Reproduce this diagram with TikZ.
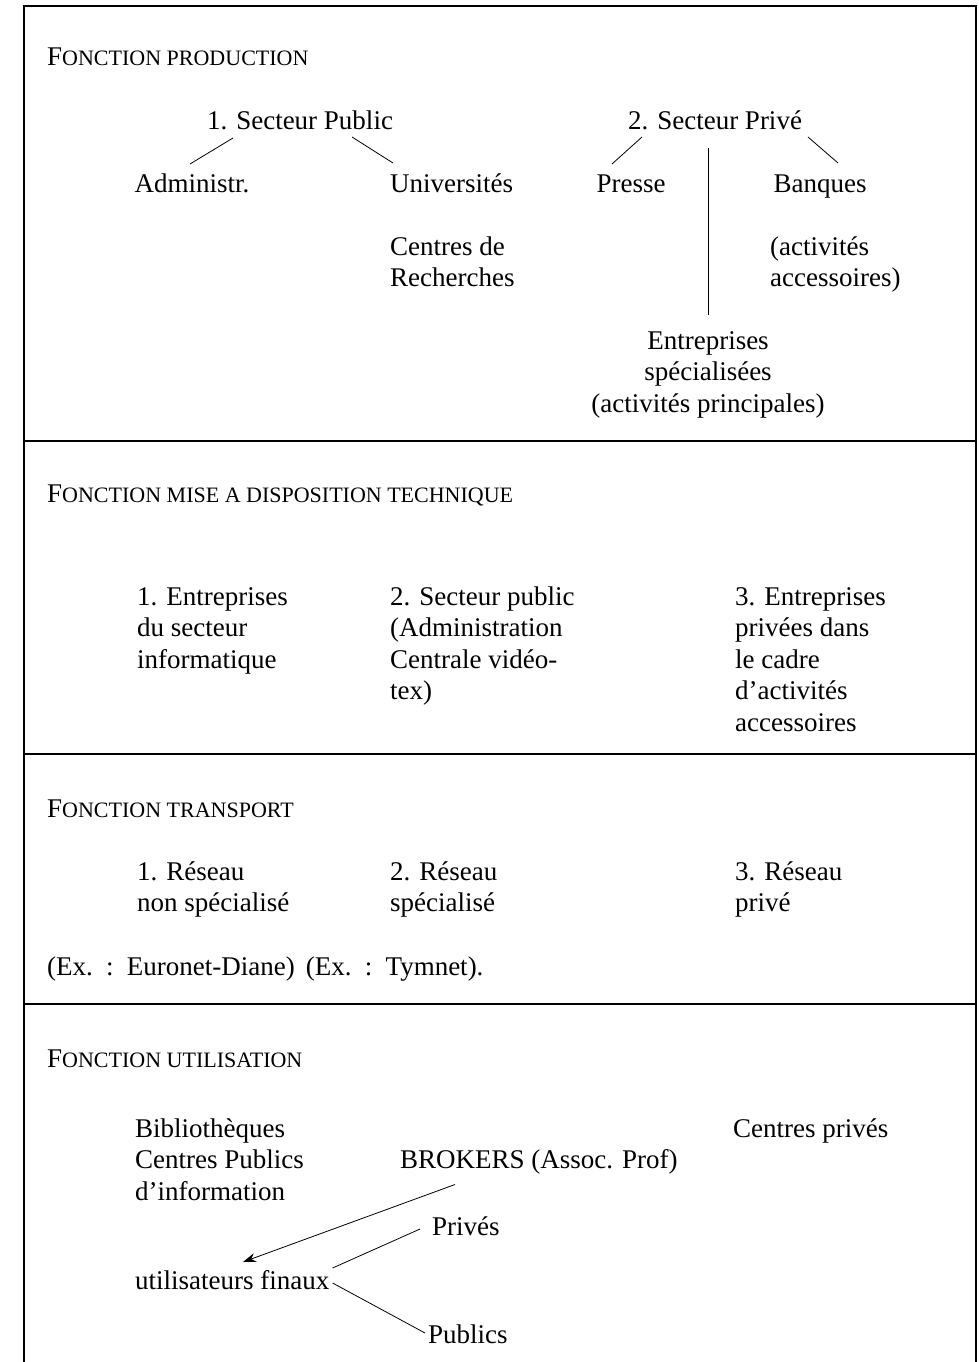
\documentclass[tikz,border=0pt]{standalone}
\usepackage{fontspec}
\setmainfont{Liberation Serif}
\usetikzlibrary{arrows.meta}
\newcommand\tl[1]{\begin{tabular}[t]{@{}l@{}}#1\end{tabular}}
\newcommand\tcen[1]{\begin{tabular}[t]{@{}c@{}}#1\end{tabular}}
\newcommand\schead[2]{#1{\fontsize{22}{26}\selectfont #2}}
\begin{document}
\begin{tikzpicture}[x=1pt,y=-1pt,
  every node/.style={font=\fontsize{27}{31.5}\selectfont, inner sep=0pt},
  lbl/.style={anchor=base west},
  lblc/.style={anchor=base},
  frame/.style={line width=1.6pt, line cap=rect},
  conn/.style={line width=0.8pt},
  arr/.style={line width=0.8pt, -{Stealth[length=13pt,width=9pt]}}]
\useasboundingbox (0,0) rectangle (979,1362);
% frame
\draw[frame] (24,1362) -- (24,6) -- (976,6) -- (976,1362);
\draw[frame] (24,441) -- (976,441);
\draw[frame] (24,754) -- (976,754);
\draw[frame] (24,1004) -- (976,1004);

% Section 1
\node[lbl] (h1) at (47,66) {\schead{F}{ONCTION PRODUCTION}};
\node[lblc] (sp) at (300,129) {1. Secteur Public};
\node[lblc] (spr) at (715,129) {2. Secteur Privé};
\node[lblc] (adm) at (192,192) {Administr.};
\node[lbl] (univ) at (390,192) {Universités};
\node[lbl] (crech) at (390,255) {\tl{Centres de\\Recherches}};
\node[lblc] (presse) at (631,192) {Presse};
\node[lblc] (banq) at (820,192) {Banques};
\node[lbl] (actacc) at (770,255) {\tl{(activités\\accessoires)}};
\node[lblc] (entspec) at (708,349) {\tcen{Entreprises\\spécialisées\\(activités principales)}};
\coordinate (vtop) at (708,148);
\draw[conn] ([shift={(-67,9)}]sp.base) -- ([shift={(-2,-28)}]adm.base);
\draw[conn] ([shift={(52,8)}]sp.base) -- ([shift={(3,-29)}]univ.base west);
\draw[conn] ([shift={(-73,8)}]spr.base) -- ([shift={(-19,-28)}]presse.base);
\draw[conn] ([shift={(93,8)}]spr.base) -- ([shift={(18,-29)}]banq.base);
\draw[conn] (vtop) -- ([yshift=12]entspec.north);

% Section 2
\node[lbl] (h2) at (47,502) {\schead{F}{ONCTION MISE A DISPOSITION TECHNIQUE}};
\node[lbl] (m1) at (137,605) {\tl{1. Entreprises\\du secteur\\informatique}};
\node[lbl] (m2) at (390,605) {\tl{2. Secteur public\\(Administration\\Centrale vidéo-\\tex)}};
\node[lbl] (m3) at (735,605) {\tl{3. Entreprises\\privées dans\\le cadre\\d'activités\\accessoires}};

% Section 3
\node[lbl] (h3) at (47,817) {\schead{F}{ONCTION TRANSPORT}};
\node[lbl] (t1) at (137,880) {\tl{1. Réseau\\non spécialisé}};
\node[lbl] (t2) at (390,880) {\tl{2. Réseau\\spécialisé}};
\node[lbl] (t3) at (735,880) {\tl{3. Réseau\\privé}};
\node[lbl] (ex) at (47,975) {\spaceskip=11pt plus 1pt\relax (Ex. : Euronet-Diane) (Ex. : Tymnet).};

% Section 4
\node[lbl] (h4) at (47,1067) {\schead{F}{ONCTION UTILISATION}};
\node[lbl] (bib) at (135,1137) {\tl{Bibliothèques\\Centres Publics\\d'information}};
\node[lbl] (cpriv) at (733,1137) {Centres privés};
\node[lbl] (brok) at (400,1168.5) {BROKERS (Assoc. Prof)};
\node[lbl] (prives) at (432,1235) {Privés};
\node[lbl] (util) at (135,1289) {utilisateurs finaux};
\node[lbl] (publ) at (428,1343) {Publics};
\draw[arr] ([shift={(55,16)}]brok.base west) -- ([shift={(108,-27)}]util.base west);
\draw[conn] ([shift={(3,-21)}]util.base east) -- ([shift={(-12,-6)}]prives.base west);
\draw[conn] ([shift={(3,-6)}]util.base east) -- ([shift={(-3,-10)}]publ.base west);
\end{tikzpicture}
\end{document}
